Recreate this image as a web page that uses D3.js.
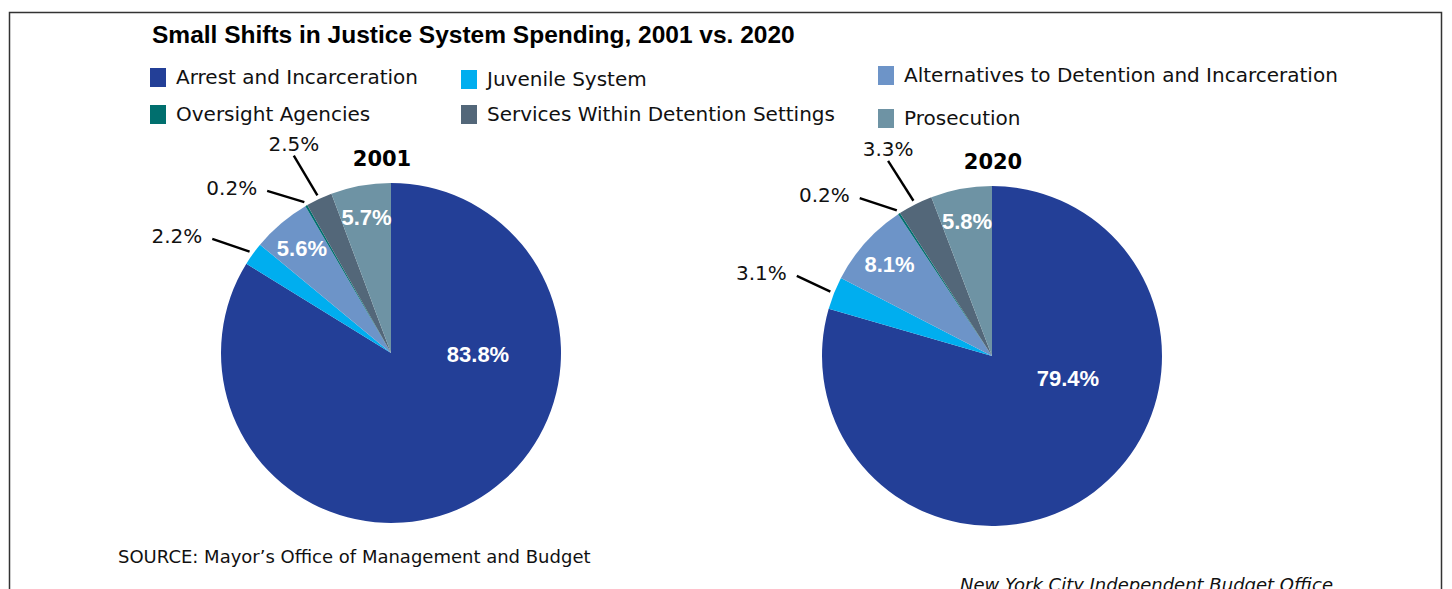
<!DOCTYPE html>
<html lang="en">
<head>
<meta charset="UTF-8">
<title>Small Shifts in Justice System Spending</title>
<script src="https://cdn.jsdelivr.net/npm/d3@7"></script>
<style>
  body { margin: 0; background: #fff; }
  svg { display: block; }
</style>
</head>
<body>
<script>
// data
var categories = ["Arrest and Incarceration", "Juvenile System", "Alternatives to Detention and Incarceration",
                  "Oversight Agencies", "Services Within Detention Settings", "Prosecution"];
var years = ["2001", "2020"];
var values2001 = [83.8, 2.2, 5.6, 0.2, 2.5, 5.7];
var values2020 = [79.4, 3.1, 8.1, 0.2, 3.3, 5.8];
var title = "Small Shifts in Justice System Spending, 2001 vs. 2020";
var source = "SOURCE: Mayor\u2019s Office of Management and Budget";
var credit = "New York City Independent Budget Office";

var colors = ["#233f97", "#00aeef", "#6d94c8", "#006f6e", "#536779", "#6e93a4"];

var width = 1452, height = 589, R = 170;

var svg = d3.select("body").append("svg")
    .attr("width", width)
    .attr("height", height);

svg.append("rect").attr("width", width).attr("height", height).attr("fill", "#fff");

// frame (bottom edge is cut off in the original)
svg.append("path")
    .attr("d", "M9.5," + (height + 5) + "V12.5H1441.5V" + (height + 5))
    .attr("fill", "none")
    .attr("stroke", "#333")
    .attr("stroke-width", 1.5);

svg.append("text")
    .attr("x", 152).attr("y", 43)
    .attr("font-family", "Liberation Sans, Arial, sans-serif")
    .attr("font-weight", "bold")
    .attr("font-size", 24.5)
    .attr("fill", "#000")
    .text(title);

// legend: column-major, order as in the chart
var legendOrder = [0, 3, 1, 4, 2, 5];
var legendSlots = [[150, 68], [150, 105], [461, 70], [461, 105], [878, 66], [878, 109]];
var legend = svg.append("g");
legendOrder.forEach(function (ci, k) {
    var g = legend.append("g").attr("transform", "translate(" + legendSlots[k] + ")");
    g.append("rect").attr("width", 16).attr("height", 19).attr("fill", colors[ci]);
    g.append("text")
        .attr("x", 26).attr("y", 16)
        .attr("font-family", "DejaVu Sans, sans-serif")
        .attr("font-size", 20)
        .attr("fill", "#111")
        .text(categories[ci]);
});

// pie layout
var pies = [
    { year: years[0], values: values2001, cx: 391, cy: 353, titleDx: -9,
      big: [87, 90.6], leaders: { 1: [212, -3.1], 3: [204, -7.5], 4: [220, -1.2] } },
    { year: years[1], values: values2020, cx: 992, cy: 356, titleDx: 1,
      big: [79, 106], leaders: { 1: [211, 0.6], 3: [206, -6.8], 4: [221, -1.2] } }
];

var pie = d3.pie().sort(null).value(function (d) { return d; });
var arc = d3.arc().innerRadius(0).outerRadius(R);

function polar(r, deg) {
    var a = deg * Math.PI / 180;
    return [r * Math.sin(a), -r * Math.cos(a)];
}

pies.forEach(function (p) {
    var g = svg.append("g").attr("transform", "translate(" + p.cx + "," + p.cy + ")");
    var arcs = pie(p.values);

    g.selectAll("path.slice")
        .data(arcs)
        .enter().append("path")
        .attr("class", "slice")
        .attr("d", arc)
        .attr("fill", function (d, i) { return colors[i]; });

    g.append("text")
        .attr("x", p.titleDx).attr("y", -R - 17)
        .attr("text-anchor", "middle")
        .attr("font-family", "DejaVu Sans, sans-serif")
        .attr("font-weight", "bold")
        .attr("font-size", 21)
        .attr("fill", "#000")
        .text(p.year);

    arcs.forEach(function (d, i) {
        var mid = (d.startAngle + d.endAngle) / 2 * 180 / Math.PI;
        var label = d.data.toFixed(1) + "%";
        if (p.leaders[i]) {
            var inner = polar(R + 4, mid);
            var out = polar(p.leaders[i][0], mid + p.leaders[i][1]);
            g.append("line")
                .attr("x1", inner[0]).attr("y1", inner[1])
                .attr("x2", out[0]).attr("y2", out[1])
                .attr("stroke", "#000")
                .attr("stroke-width", 2.4);
            var t = g.append("text")
                .attr("font-family", "DejaVu Sans, sans-serif")
                .attr("font-size", 20)
                .attr("fill", "#111")
                .text(label);
            if (i === 4) {
                t.attr("x", out[0]).attr("y", out[1] - 5).attr("text-anchor", "middle");
            } else {
                t.attr("x", out[0] - 10).attr("y", out[1] - 3)
                    .attr("dy", "0.35em").attr("text-anchor", "end");
            }
        } else {
            var pos = i === 0 ? polar(p.big[0], p.big[1]) : polar(R * 0.81, mid);
            g.append("text")
                .attr("x", pos[0]).attr("y", pos[1])
                .attr("dy", "0.36em")
                .attr("text-anchor", "middle")
                .attr("font-family", "Liberation Sans, Arial, sans-serif")
                .attr("font-weight", "bold")
                .attr("font-size", 22)
                .attr("fill", "#fff")
                .text(label);
        }
    });
});

svg.append("text")
    .attr("x", 118).attr("y", 563)
    .attr("font-family", "DejaVu Sans, sans-serif")
    .attr("font-size", 18)
    .attr("fill", "#111")
    .text(source);

svg.append("text")
    .attr("x", 960).attr("y", 591)
    .attr("font-family", "DejaVu Sans, sans-serif")
    .attr("font-style", "italic")
    .attr("font-size", 18)
    .attr("fill", "#111")
    .text(credit);
</script>
</body>
</html>
